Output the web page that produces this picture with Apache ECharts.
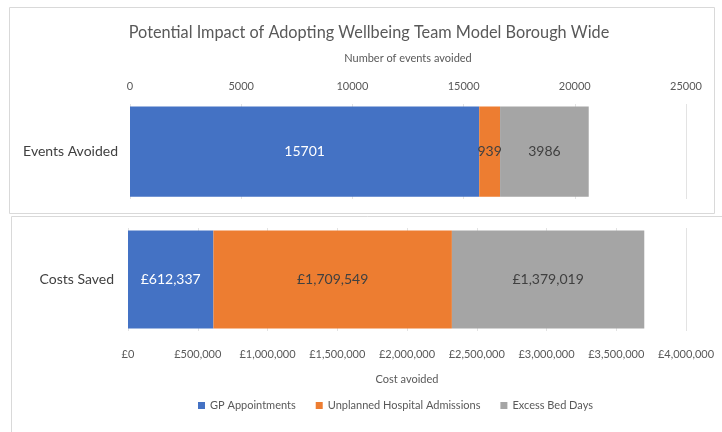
<!DOCTYPE html>
<html>
<head>
<meta charset="utf-8">
<script src="https://cdn.jsdelivr.net/npm/echarts@6/dist/echarts.min.js"></script>
<style>
  html, body { margin: 0; padding: 0; background: #fff; }
  #chart { width: 722px; height: 432px; }
</style>
</head>
<body>
<div id="chart"></div>
<script>
var seriesNames = ['GP Appointments', 'Unplanned Hospital Admissions', 'Excess Bed Days'];
var colors = ['#4472C4', '#ED7D31', '#A5A5A5'];
var labelColors = ['#ffffff', '#404040', '#404040'];
var eventsCategory = ['Events Avoided'];
var costsCategory = ['Costs Saved'];
var eventsValues = [15701, 939, 3986];
var costsValues = [612337, 1709549, 1379019];

var FONT = 'Lato, "Open Sans", sans-serif';

function money(v) {
  return '£' + Math.round(v).toLocaleString('en-GB');
}

var chart = echarts.init(document.getElementById('chart'));

var series = [];
seriesNames.forEach(function (name, i) {
  series.push({
    name: name,
    type: 'bar',
    stack: 'events',
    xAxisIndex: 0,
    yAxisIndex: 0,
    barWidth: '95%',
    itemStyle: { color: colors[i] },
    label: {
      show: true,
      position: 'inside',
      color: labelColors[i],
      fontSize: 14,
      fontFamily: FONT
    },
    data: [eventsValues[i]]
  });
});
seriesNames.forEach(function (name, i) {
  series.push({
    name: name,
    type: 'bar',
    stack: 'costs',
    xAxisIndex: 1,
    yAxisIndex: 1,
    barWidth: '95%',
    itemStyle: { color: colors[i] },
    label: {
      show: true,
      position: 'inside',
      color: labelColors[i],
      fontSize: 14,
      fontFamily: FONT,
      formatter: function (p) { return money(p.value); }
    },
    data: [costsValues[i]]
  });
});

var options = {
  animation: false,
  textStyle: { fontFamily: FONT },
  title: {
    text: 'Potential Impact of Adopting Wellbeing Team Model Borough Wide',
    left: 364,
    textAlign: 'center',
    top: 20,
    textStyle: { fontSize: 16.3, fontWeight: 'normal', color: '#595959', fontFamily: FONT }
  },
  graphic: [
    { type: 'rect', shape: { x: 9.5, y: 7.5, width: 705, height: 206 },
      style: { fill: 'none', stroke: '#d9d9d9', lineWidth: 1 }, z: -1 },
    { type: 'rect', shape: { x: 11.5, y: 216.5, width: 720, height: 230 },
      style: { fill: 'none', stroke: '#d9d9d9', lineWidth: 1 }, z: -1 }
  ],
  legend: {
    data: seriesNames,
    left: 193,
    top: 395,
    itemWidth: 7,
    itemHeight: 7,
    itemGap: 20,
    icon: 'rect',
    textStyle: { fontSize: 11, color: '#595959', fontFamily: FONT }
  },
  grid: [
    { left: 130, right: 36, top: 104, height: 95 },
    { left: 128, right: 36, top: 228, height: 103 }
  ],
  xAxis: [
    {
      type: 'value',
      gridIndex: 0,
      position: 'top',
      min: 0,
      max: 25000,
      interval: 5000,
      name: 'Number of events avoided',
      nameLocation: 'middle',
      nameGap: 40,
      nameTextStyle: { fontSize: 11, color: '#595959' },
      axisLine: { show: false },
      axisTick: { show: false },
      axisLabel: { fontSize: 11, color: '#595959', margin: 12, formatter: function (v) { return String(v); } },
      splitLine: { show: true, lineStyle: { color: '#e3e3e3' } }
    },
    {
      type: 'value',
      gridIndex: 1,
      position: 'bottom',
      min: 0,
      max: 4000000,
      interval: 500000,
      name: 'Cost avoided',
      nameLocation: 'middle',
      nameGap: 43,
      nameTextStyle: { fontSize: 11, color: '#595959' },
      axisLine: { show: false },
      axisTick: { show: false },
      axisLabel: { fontSize: 11, color: '#595959', margin: 18, formatter: money },
      splitLine: { show: true, lineStyle: { color: '#e3e3e3' } }
    }
  ],
  yAxis: [
    {
      type: 'category',
      gridIndex: 0,
      data: eventsCategory,
      axisLine: { show: false },
      axisTick: { show: false },
      axisLabel: { fontSize: 14, color: '#404040', margin: 12 }
    },
    {
      type: 'category',
      gridIndex: 1,
      data: costsCategory,
      axisLine: { show: false },
      axisTick: { show: false },
      axisLabel: { fontSize: 14, color: '#404040', margin: 14 }
    }
  ],
  series: series
};

chart.setOption(options);
</script>
</body>
</html>
